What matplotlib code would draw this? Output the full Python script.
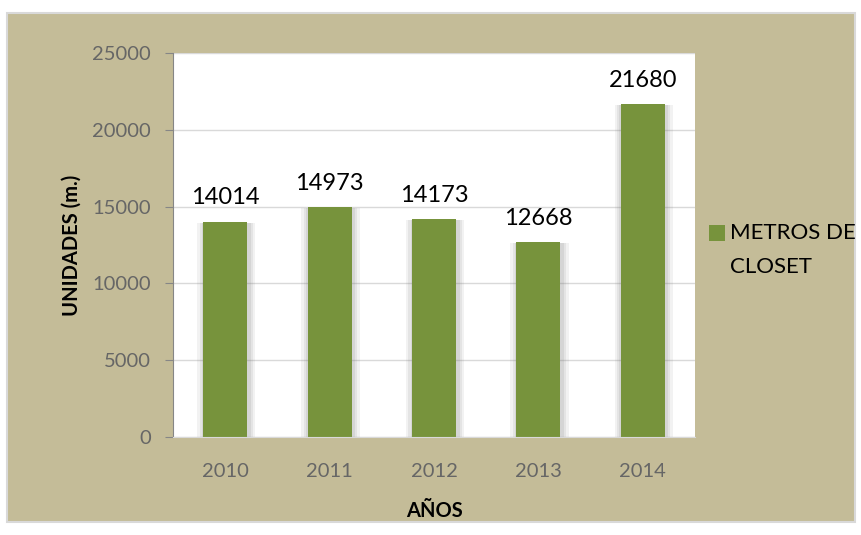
import matplotlib.pyplot as plt
import numpy as np

# Data
years = ['2010', '2011', '2012', '2013', '2014']
metros = [14014, 14973, 14173, 12668, 21680]
yticks = [0, 5000, 10000, 15000, 20000, 25000]

tan = '#c4bc98'
green = '#77933c'
plt.rcParams['font.family'] = ['Lato', 'DejaVu Sans']

fig = plt.figure(figsize=(8.62, 5.35), dpi=100)
fig.patch.set_facecolor('white')

# tan panel with thin grey border
panel = plt.Rectangle((7 / 862, 1 - 522 / 535), 848 / 862, 509 / 535,
                      transform=fig.transFigure, facecolor=tan,
                      edgecolor='#d9d9d9', linewidth=1.5, zorder=-1)
fig.patches.append(panel)

ax = fig.add_axes([173 / 862, 1 - 437 / 535, (695 - 173) / 862, (437 - 53) / 535])
ax.set_facecolor('white')

x = np.arange(len(years))
w = 0.42
# soft shadow behind bars
for k, a in [(0.07, 0.10), (0.045, 0.12), (0.025, 0.15)]:
    ax.bar(x + 0.01, np.array(metros) - 60, width=w + 2 * k, color='#808080',
           alpha=a, zorder=1, linewidth=0)
ax.bar(x, metros, width=w, color=green, zorder=2, label='METROS DE\nCLOSET')

for xi, v in zip(x, metros):
    ax.annotate(str(v), (xi, v), xytext=(0, 12.5), textcoords='offset points',
                ha='center', va='baseline', fontsize=17, color='black')

ax.set_xlim(-0.5, 4.5)
ax.set_ylim(0, 25000)
ax.set_yticks(yticks)
ax.set_xticks(x)
ax.set_xticklabels(years)
ax.tick_params(axis='y', length=5.8, color='#868686', labelsize=14.5, labelcolor='#666666', pad=10)
ax.tick_params(axis='x', length=0, labelsize=14.5, labelcolor='#666666', pad=19)
ax.grid(axis='y', color='#d9d9d9', linewidth=1, zorder=0)
ax.set_axisbelow(True)
for s in ['top', 'right']:
    ax.spines[s].set_visible(False)
ax.spines['left'].set_color('#868686')
ax.spines['bottom'].set_color('#d9d9d9')

ax.set_xlabel('AÑOS', fontsize=14.5, fontweight='bold', labelpad=15)
ax.set_ylabel('UNIDADES (m.)', fontsize=14.5, fontweight='bold', labelpad=8)

leg = ax.legend(loc='upper left', bbox_to_anchor=(1.006, 0.585), frameon=False,
                fontsize=16, handlelength=0.72, handleheight=0.72, handletextpad=0.2,
                borderaxespad=0.0, borderpad=0.5)
leg.get_texts()[0].set_linespacing(1.82)
h = leg.legend_handles[0]
h.set_y(h.get_y() + 12.6)

fig.savefig('out.png', dpi=100, facecolor=fig.get_facecolor())
